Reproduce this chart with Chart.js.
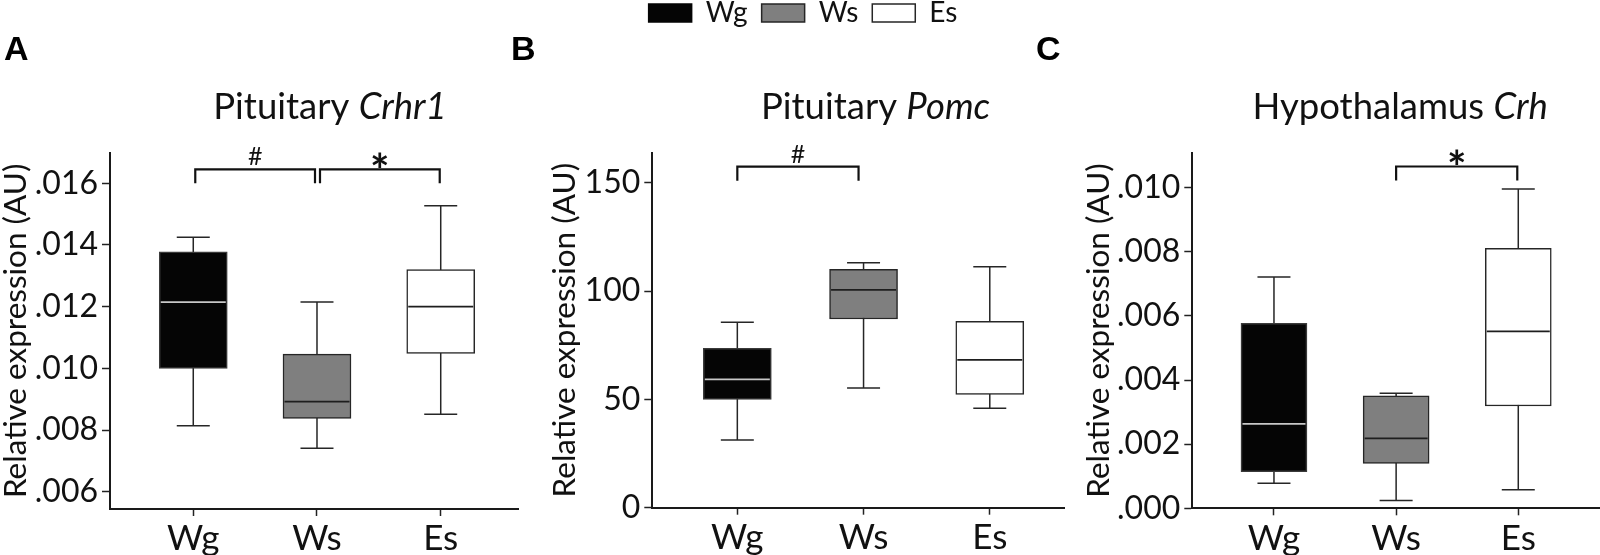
<!DOCTYPE html>
<html>
<head>
<meta charset="utf-8">
<title>Relative expression - Crhr1, Pomc, Crh</title>
<script src="https://cdn.jsdelivr.net/npm/chart.js@4.4.1/dist/chart.umd.min.js"></script>
<style>
    html, body { margin: 0; padding: 0; background: #fff; }
    body { position: relative; width: 1600px; height: 555px; overflow: hidden; }
    canvas { position: absolute; top: 0; }
    #chartA { left: 0; }
    #chartB { left: 510px; }
    #chartC { left: 1030px; }
</style>
</head>
<body>
<canvas id="chartA" width="530" height="555"></canvas>
<canvas id="chartB" width="580" height="555"></canvas>
<canvas id="chartC" width="570" height="555"></canvas>
<script>
// Groups shared by all three panels
const groups = ['Wg', 'Ws', 'Es'];
const groupFill = ['#050505', '#7f7f7f', '#ffffff'];
const groupBorder = ['#3a3a3a', '#262626', '#262626'];
const medianColor = ['#c8c8c8', '#1e1e1e', '#1e1e1e'];

// Panel A - Pituitary Crhr1
const crhr1Min = [0.00814, 0.00741, 0.00851];
const crhr1Q1 = [0.0100, 0.00838, 0.01048];
const crhr1Median = [0.01215, 0.00892, 0.0120];
const crhr1Q3 = [0.01378, 0.01046, 0.0132];
const crhr1Max = [0.01425, 0.01215, 0.01527];
const crhr1TickValues = [0.006, 0.008, 0.010, 0.012, 0.014, 0.016];
const crhr1TickLabels = ['.006', '.008', '.010', '.012', '.014', '.016'];
const crhr1Brackets = [
    { from: 'Wg', to: 'Ws', top: 0.01645, foot: 0.0160, mark: '#' },
    { from: 'Ws', to: 'Es', top: 0.01645, foot: 0.0160, mark: '*' }
];

// Panel B - Pituitary Pomc
const pomcMin = [31.2, 55.2, 45.9];
const pomcQ1 = [50.0, 87.1, 52.3];
const pomcMedian = [59.2, 100.5, 68.2];
const pomcQ3 = [73.6, 110.0, 86.0];
const pomcMax = [85.6, 113.1, 111.2];
const pomcTickValues = [0, 50, 100, 150];
const pomcTickLabels = ['0', '50', '100', '150'];
const pomcBrackets = [
    { from: 'Wg', to: 'Ws', top: 157.4, foot: 150.9, mark: '#' }
];

// Panel C - Hypothalamus Crh
const crhMin = [0.00078, 0.00024, 0.00058];
const crhQ1 = [0.00114, 0.00140, 0.00319];
const crhMedian = [0.00263, 0.00218, 0.00552];
const crhQ3 = [0.00577, 0.00351, 0.00811];
const crhMax = [0.00721, 0.00359, 0.00996];
const crhTickValues = [0, 0.002, 0.004, 0.006, 0.008, 0.010];
const crhTickLabels = ['.000', '.002', '.004', '.006', '.008', '.010'];
const crhBrackets = [
    { from: 'Ws', to: 'Es', top: 0.01066, foot: 0.01022, mark: '*' }
];

const FONT = 'Lato, "Open Sans", sans-serif';
const INK = '#111111';
const AXIS_TITLE = 'Relative expression (AU)';
const TITLE_SIZE = 36.5;

// Whiskers, medians, significance brackets, panel title and letter
const boxExtras = {
    id: 'boxExtras',
    beforeDatasetsDraw(chart, args, o) {
        const { ctx, scales: { x, y } } = chart;
        ctx.save();
        ctx.strokeStyle = '#262626';
        ctx.lineWidth = 1.5;
        o.min.forEach((lo, i) => {
            const cx = x.getPixelForValue(i + 1);
            const yLo = y.getPixelForValue(lo);
            const yHi = y.getPixelForValue(o.max[i]);
            ctx.beginPath();
            ctx.moveTo(cx, yLo);
            ctx.lineTo(cx, yHi);
            ctx.moveTo(cx - o.cap / 2, yLo);
            ctx.lineTo(cx + o.cap / 2, yLo);
            ctx.moveTo(cx - o.cap / 2, yHi);
            ctx.lineTo(cx + o.cap / 2, yHi);
            ctx.stroke();
        });
        ctx.restore();
    },
    afterDatasetsDraw(chart, args, o) {
        const { ctx, scales: { y } } = chart;
        const bars = chart.getDatasetMeta(0).data;
        ctx.save();
        ctx.lineWidth = 1.8;
        o.median.forEach((m, i) => {
            const bar = bars[i];
            const ym = y.getPixelForValue(m);
            ctx.strokeStyle = medianColor[i];
            ctx.beginPath();
            ctx.moveTo(bar.x - bar.width / 2 + 1.5, ym);
            ctx.lineTo(bar.x + bar.width / 2 - 1.5, ym);
            ctx.stroke();
        });
        ctx.restore();
    },
    afterDraw(chart, args, o) {
        const { ctx, scales: { x, y } } = chart;
        ctx.save();
        ctx.strokeStyle = INK;
        ctx.fillStyle = INK;
        ctx.lineWidth = 2.2;
        ctx.textAlign = 'center';
        ctx.textBaseline = 'alphabetic';
        o.brackets.forEach((b, k) => {
            const inset = o.insets[k];
            const x1 = x.getPixelForValue(groups.indexOf(b.from) + 1) + inset[0];
            const x2 = x.getPixelForValue(groups.indexOf(b.to) + 1) - inset[1];
            const yt = y.getPixelForValue(b.top);
            const yf = y.getPixelForValue(b.foot);
            ctx.beginPath();
            ctx.moveTo(x1, yf);
            ctx.lineTo(x1, yt);
            ctx.lineTo(x2, yt);
            ctx.lineTo(x2, yf);
            ctx.stroke();
            if (b.mark === '*') {
                ctx.font = 'bold 46px ' + FONT;
                ctx.fillText(b.mark, (x1 + x2) / 2, yt + 18);
            } else {
                ctx.font = '25px ' + FONT;
                ctx.fillText(b.mark, (x1 + x2) / 2, yt - 4);
            }
        });

        // panel title: plain part + italic gene name
        const plainFont = TITLE_SIZE + 'px ' + FONT;
        const italicFont = 'italic ' + TITLE_SIZE + 'px ' + FONT;
        ctx.font = plainFont;
        const w1 = ctx.measureText(o.title[0]).width;
        ctx.font = italicFont;
        const w2 = ctx.measureText(o.title[1]).width;
        const left = x.getPixelForValue(2) + o.titleDx - (w1 + w2) / 2;
        ctx.textAlign = 'left';
        ctx.font = plainFont;
        ctx.fillText(o.title[0], left, 119);
        ctx.font = italicFont;
        ctx.fillText(o.title[1], left + w1, 119);

        // panel letter
        ctx.fillStyle = '#000';
        ctx.font = 'bold 34px "Liberation Sans", Arial, sans-serif';
        ctx.fillText(o.letter, o.letterX, 60);
        ctx.restore();
    }
};

function buildPanel(canvasId, p) {
    const ctx = document.getElementById(canvasId).getContext('2d');
    const gridStyle = {
        drawOnChartArea: false,
        drawTicks: true,
        tickLength: 8,
        tickWidth: 1.5,
        tickColor: '#222'
    };
    const borderStyle = { display: true, color: '#1a1a1a', width: 2 };

    return new Chart(ctx, {
        type: 'bar',
        data: {
            datasets: [{
                data: p.q1.map((lo, i) => ({ x: i + 1, y: [lo, p.q3[i]] })),
                backgroundColor: groupFill,
                borderColor: groupBorder,
                borderWidth: 1.5,
                borderSkipped: false,
                barThickness: p.boxWidth
            }]
        },
        options: {
            responsive: false,
            animation: false,
            layout: { padding: p.padding },
            scales: {
                x: {
                    type: 'linear',
                    offset: false,
                    min: p.xMin,
                    max: p.xMax,
                    afterBuildTicks: s => { s.ticks = groups.map((g, i) => ({ value: i + 1 })); },
                    afterFit: s => { s.height = p.xHeight; },
                    ticks: {
                        callback: v => groups[v - 1],
                        font: { family: FONT, size: 35 },
                        color: INK,
                        padding: 2,
                        maxRotation: 0,
                        autoSkip: false
                    },
                    grid: { ...gridStyle, offset: false, tickLength: 7 },
                    border: borderStyle
                },
                y: {
                    min: p.yMin,
                    max: p.yMax,
                    afterBuildTicks: s => { s.ticks = p.tickValues.map(v => ({ value: v })); },
                    afterFit: s => { s.width = p.yWidth; },
                    ticks: {
                        callback: (v, i) => p.tickLabels[i],
                        font: { family: FONT, size: 32 },
                        color: INK,
                        padding: 4,
                        autoSkip: false
                    },
                    title: {
                        display: true,
                        text: AXIS_TITLE,
                        font: { family: FONT, size: 31.5, lineHeight: 1 },
                        color: INK,
                        padding: { top: p.yTitlePad, bottom: 0 }
                    },
                    grid: gridStyle,
                    border: borderStyle
                }
            },
            plugins: {
                tooltip: { enabled: false },
                legend: p.legend || { display: false },
                title: p.spacer || { display: false },
                boxExtras: {
                    min: p.min,
                    max: p.max,
                    median: p.median,
                    cap: 33,
                    brackets: p.brackets,
                    insets: p.insets,
                    title: p.title,
                    titleDx: p.titleDx,
                    letter: p.letter,
                    letterX: p.letterX
                }
            }
        },
        plugins: [boxExtras]
    });
}

document.addEventListener('DOMContentLoaded', function() {
    buildPanel('chartA', {
        min: crhr1Min, q1: crhr1Q1, median: crhr1Median, q3: crhr1Q3, max: crhr1Max,
        tickValues: crhr1TickValues, tickLabels: crhr1TickLabels,
        brackets: crhr1Brackets, insets: [[2, 2], [3, 1]],
        yMin: 0.005439, yMax: 0.016992,
        xMin: 0.327, xMax: 3.627,
        padding: { top: 152.7, left: 0, right: 11.7, bottom: 0 },
        xHeight: 46, yWidth: 110, yTitlePad: 0,
        boxWidth: 68,
        title: ['Pituitary ', 'Crhr1'], titleDx: 13,
        letter: 'A', letterX: 4
    });

    buildPanel('chartB', {
        min: pomcMin, q1: pomcQ1, median: pomcMedian, q3: pomcQ3, max: pomcMax,
        tickValues: pomcTickValues, tickLabels: pomcTickLabels,
        brackets: pomcBrackets, insets: [[0, 5]],
        yMin: 0, yMax: 163.85,
        xMin: 0.3264, xMax: 3.588,
        padding: { top: -15, left: 32, right: 26, bottom: 0 },
        xHeight: 47.3, yWidth: 110.3, yTitlePad: 7,
        boxWidth: 68,
        title: ['Pituitary ', 'Pomc'], titleDx: 12,
        letter: 'B', letterX: 1,
        legend: {
            display: true,
            position: 'top',
            weight: 3000,
            labels: {
                boxWidth: 43,
                boxHeight: 18,
                padding: 14,
                color: INK,
                font: { family: FONT, size: 28 },
                generateLabels: () => groups.map((g, i) => ({
                    text: g,
                    fillStyle: groupFill[i],
                    strokeStyle: i === 0 ? groupFill[0] : '#262626',
                    lineWidth: 1.5,
                    fontColor: INK,
                    hidden: false,
                    datasetIndex: 0
                }))
            }
        },
        // empty title used only to push the plot area down under the legend
        spacer: {
            display: true, text: '', weight: 500,
            font: { size: 10, lineHeight: 1 },
            padding: { top: 0, bottom: 105.7 }
        }
    });

    buildPanel('chartC', {
        min: crhMin, q1: crhQ1, median: crhMedian, q3: crhQ3, max: crhMax,
        tickValues: crhTickValues, tickLabels: crhTickLabels,
        brackets: crhBrackets, insets: [[0, 1]],
        yMin: 0, yMax: 0.01109,
        xMin: 0.3314, xMax: 3.669,
        padding: { top: 152.7, left: 0, right: 0, bottom: 0 },
        xHeight: 46.7, yWidth: 162.3, yTitlePad: 53,
        boxWidth: 66,
        title: ['Hypothalamus ', 'Crh'], titleDx: 4,
        letter: 'C', letterX: 6
    });
});
</script>
</body>
</html>
